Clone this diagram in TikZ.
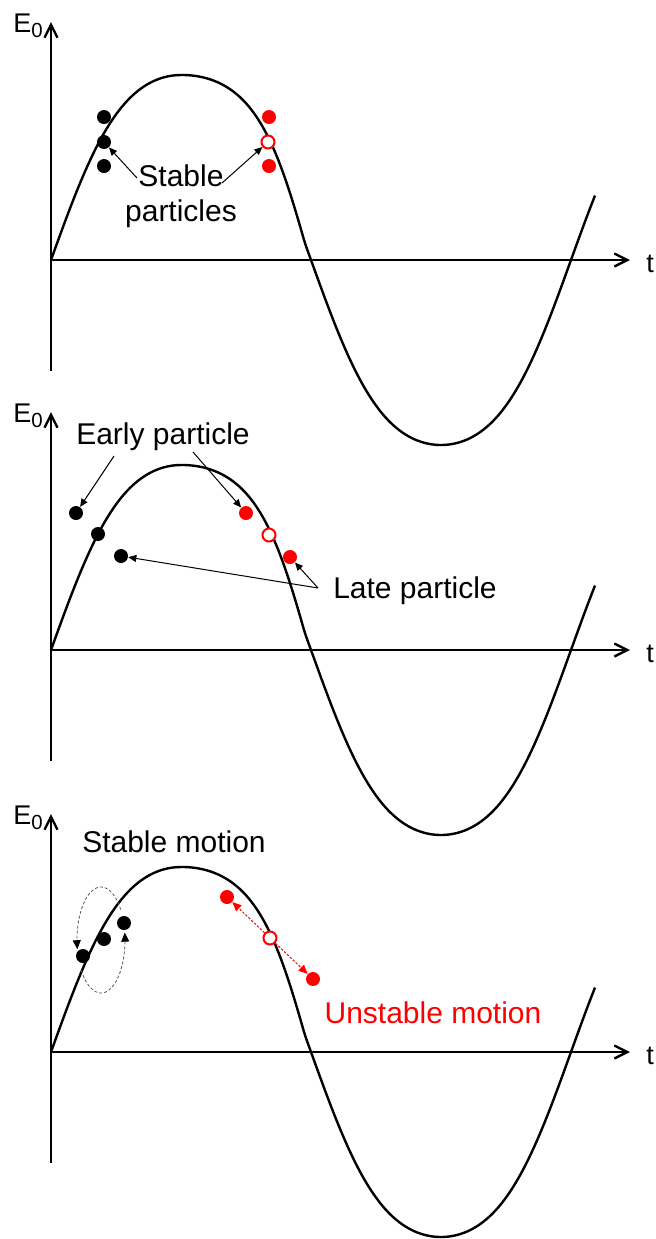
\documentclass[tikz,border=0pt]{standalone}
\usepackage{fontspec}
\setmainfont{Liberation Sans}
\usetikzlibrary{arrows.meta}
\begin{document}
\begin{tikzpicture}[x=0.5pt,y=-0.5pt,
  declare function={
    wv(\t)=260-185*sin(0.692308*(\t-51) + 6.88*sin(1.384615*(\t-51)));
    sh(\t)=and(\t>175,\t<305)*9*sin(1.384615*(\t-175));
  },
  axis/.style={line width=1.2pt,-{Straight Barb[length=6.5pt,width=6.5pt]}},
  wave/.style={line width=1.2pt},
  bdot/.style={circle,fill=black,inner sep=0pt,minimum size=7pt},
  rdot/.style={circle,fill=red,inner sep=0pt,minimum size=7pt},
  odot/.style={circle,draw=red,fill=white,line width=1pt,inner sep=0pt,minimum size=6.5pt},
  lbl/.style={font=\fontsize{15}{17.5}\selectfont,inner sep=0pt,align=center},
  axlbl/.style={font=\fontsize{13.5}{13.5}\selectfont,inner sep=0pt},
  thinarr/.style={line width=0.5pt,-{Triangle[length=4pt,width=3.5pt]}},
  rarr/.style={red,line width=0.5pt,dash pattern=on 1.2pt off 0.8pt,-{Triangle[length=4.5pt,width=4pt]}},
  ell/.style={black!65,line width=0.4pt,dash pattern=on 1.5pt off 1pt,-{Triangle[length=4.5pt,width=4pt,black]}}
]
\useasboundingbox (0,0) rectangle (655,1239);

% three panels: axes, labels and wave
\foreach \off/\nm in {0/1,390/2,792/3}{
  \begin{scope}[shift={(0,\off)}]
    \draw[axis] (51,371) -- (51,22);
    \draw[axis] (51,260) -- (630,260);
    \node[axlbl,anchor=base west] (E\nm) at (13,32) {E\raisebox{-2.5pt}{\fontsize{10.2}{10}\selectfont 0}};
    \node[axlbl,anchor=base west] (t\nm) at (646,272) {t};
    \draw[wave] plot[domain=51:595,samples=240] ({\x+sh(\x)},{wv(\x)});
  \end{scope}
}

% ---------- panel 1 ----------
\node[bdot] (a1) at (104,117) {};
\node[bdot] (a2) at (104,142) {};
\node[bdot] (a3) at (104,166) {};
\node[rdot] (b1) at (269,117) {};
\node[odot] (b2) at (268,142) {};
\node[rdot] (b3) at (269,166) {};
\node[lbl] (stab) at (181,196.5) {Stable\\particles};
\coordinate (s1) at (137,178);
\coordinate (s2) at (222,183);
\draw[thinarr] (s1) -- (a2);
\draw[thinarr] (s2) -- (b2);

% ---------- panel 2 ----------
\node[bdot] (c1) at (76,513) {};
\node[bdot] (c2) at (98,534) {};
\node[bdot] (c3) at (121,556) {};
\node[rdot] (d1) at (246,513) {};
\node[odot] (d2) at (269,535) {};
\node[rdot] (d3) at (290,557) {};
\node[lbl,anchor=base] (early) at (163,444) {Early particle};
\node[lbl,anchor=base] (late) at (415,598) {Late particle};
\coordinate (e1) at (114,456);
\coordinate (e2) at (193,452);
\coordinate (l0) at (318,588);
\draw[thinarr] (e1) -- (c1);
\draw[thinarr] (e2) -- (d1);
\draw[thinarr] (l0) -- (c3);
\draw[thinarr] (l0) -- (d3);

% ---------- panel 3 ----------
\node[bdot] (g1) at (83,956) {};
\node[bdot] (g2) at (104,939) {};
\node[bdot] (g3) at (124,923) {};
\node[rdot] (f1) at (227,897) {};
\node[odot] (f2) at (270,938) {};
\node[rdot] (f3) at (313,979) {};
\node[lbl,anchor=base] (smot) at (174,852) {Stable motion};
\node[lbl,anchor=base,text=red] (umot) at (433,1023) {Unstable motion};
\draw[ell] plot[domain=35:190,samples=50] ({101+24*cos(\x)},{940-53*sin(\x)});
\draw[ell] plot[domain=215:368,samples=50] ({101+24*cos(\x)},{940-53*sin(\x)});
\draw[rarr] (f2) -- (f1);
\draw[rarr] (f2) -- (f3);
\end{tikzpicture}
\end{document}
